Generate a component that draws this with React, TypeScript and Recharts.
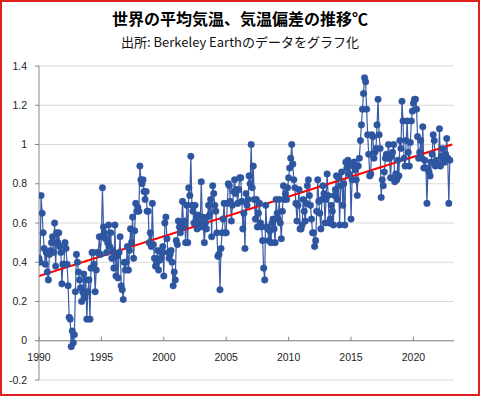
import React from 'react';
import { ComposedChart, Line, XAxis, YAxis, CartesianGrid, ReferenceLine } from 'recharts';

// ---- data ----
const title = '世界の平均気温、気温偏差の推移℃';
const subtitle = '出所: Berkeley Earthのデータをグラフ化';

const startYear = 1990;
// monthly anomaly (°C), one row per year, Jan..Dec, 1990..2022
const monthlyAnomaly: number[][] = [
  [0.42, 0.40, 0.74, 0.65, 0.55, 0.47, 0.39, 0.45, 0.35, 0.31, 0.44, 0.46], // 1990
  [0.50, 0.53, 0.45, 0.60, 0.38, 0.55, 0.50, 0.55, 0.48, 0.45, 0.29, 0.39], // 1991
  [0.39, 0.50, 0.47, 0.39, 0.28, 0.12, 0.11, -0.03, 0.05, -0.01, 0.03, 0.25], // 1992
  [0.44, 0.40, 0.35, 0.31, 0.27, 0.20, 0.25, 0.34, 0.22, 0.31, 0.11, 0.25], // 1993
  [0.31, 0.11, 0.37, 0.45, 0.45, 0.39, 0.25, 0.36, 0.45, 0.45, 0.53, 0.44], // 1994
  [0.53, 0.78, 0.58, 0.55, 0.52, 0.45, 0.50, 0.59, 0.48, 0.55, 0.42, 0.46], // 1995
  [0.37, 0.59, 0.33, 0.43, 0.32, 0.45, 0.53, 0.28, 0.26, 0.21, 0.40, 0.36], // 1996
  [0.40, 0.48, 0.36, 0.46, 0.57, 0.50, 0.63, 0.42, 0.56, 0.70, 0.66, 0.68], // 1997
  [0.66, 0.89, 0.82, 0.80, 0.82, 0.76, 0.72, 0.76, 0.66, 0.66, 0.50, 0.55], // 1998
  [0.48, 0.70, 0.49, 0.42, 0.38, 0.40, 0.46, 0.36, 0.41, 0.42, 0.45, 0.48], // 1999
  [0.33, 0.60, 0.63, 0.52, 0.45, 0.42, 0.44, 0.46, 0.40, 0.28, 0.35, 0.31], // 2000
  [0.51, 0.49, 0.61, 0.58, 0.55, 0.60, 0.71, 0.58, 0.61, 0.50, 0.69, 0.50], // 2001
  [0.78, 0.74, 0.94, 0.69, 0.66, 0.60, 0.69, 0.62, 0.57, 0.64, 0.60, 0.58], // 2002
  [0.81, 0.63, 0.58, 0.50, 0.60, 0.57, 0.63, 0.69, 0.64, 0.72, 0.53, 0.79], // 2003
  [0.75, 0.69, 0.66, 0.55, 0.43, 0.44, 0.26, 0.47, 0.55, 0.62, 0.70, 0.55], // 2004
  [0.55, 0.70, 0.80, 0.79, 0.71, 0.61, 0.69, 0.76, 0.82, 0.75, 0.77, 0.70], // 2005
  [0.77, 0.83, 0.83, 0.71, 0.57, 0.65, 0.47, 0.75, 0.69, 0.72, 0.84, 0.80], // 2006
  [1.00, 0.78, 0.89, 0.72, 0.62, 0.72, 0.58, 0.65, 0.70, 0.60, 0.58, 0.51], // 2007
  [0.37, 0.31, 0.69, 0.58, 0.57, 0.51, 0.56, 0.50, 0.60, 0.62, 0.57, 0.50], // 2008
  [0.72, 0.65, 0.62, 0.72, 0.60, 0.52, 0.66, 0.79, 0.72, 0.75, 0.72, 0.78], // 2009
  [0.83, 0.88, 0.93, 1.00, 0.90, 0.82, 0.78, 0.70, 0.61, 0.69, 0.77, 0.57], // 2010
  [0.57, 0.59, 0.72, 0.66, 0.61, 0.70, 0.79, 0.82, 0.74, 0.69, 0.62, 0.55], // 2011
  [0.55, 0.48, 0.51, 0.66, 0.82, 0.71, 0.65, 0.57, 0.72, 0.79, 0.75, 0.60], // 2012
  [0.72, 0.85, 0.74, 0.60, 0.62, 0.69, 0.66, 0.59, 0.74, 0.77, 0.84, 0.72], // 2013
  [0.83, 0.59, 0.79, 0.86, 0.69, 0.80, 0.59, 0.91, 0.88, 0.92, 0.85, 0.90], // 2014
  [0.62, 0.82, 0.89, 0.91, 0.87, 0.82, 0.74, 0.89, 0.93, 1.02, 1.10, 1.18], // 2015
  [1.26, 1.34, 1.32, 1.18, 1.05, 0.95, 0.84, 0.85, 1.05, 1.04, 0.93, 0.96], // 2016
  [0.98, 1.10, 1.23, 1.05, 0.98, 0.73, 0.82, 0.79, 0.86, 0.93, 0.95, 0.93], // 2017
  [1.00, 0.93, 0.83, 0.94, 0.96, 1.00, 0.81, 0.85, 0.82, 0.92, 0.84, 1.02], // 2018
  [0.98, 1.22, 1.12, 0.93, 0.89, 1.02, 1.12, 0.96, 0.89, 1.01, 1.12, 1.17], // 2019
  [1.21, 1.23, 1.23, 1.18, 1.04, 0.93, 0.96, 1.02, 0.93, 1.09, 0.88, 0.92], // 2020
  [0.88, 0.70, 0.88, 0.86, 0.84, 0.91, 0.95, 1.05, 1.02, 0.89, 0.92, 0.90], // 2021
  [0.90, 1.08, 0.89, 0.94, 0.98, 0.93, 0.91, 0.95, 1.03, 0.93, 0.70, 0.92], // 2022
];

const trendYears = [1990, 2023.1];
const trendValues = [0.33, 1.0];

const xTicks = [1990, 1995, 2000, 2005, 2010, 2015, 2020];
const yTicks = [-0.2, 0, 0.2, 0.4, 0.6, 0.8, 1, 1.2, 1.4];
const xDomain: [number, number] = [1990, 2023.25];
const yDomain: [number, number] = [-0.2, 1.4];

const series = monthlyAnomaly.flatMap((row, yi) =>
  row.map((v, m) => ({ t: startYear + yi + m / 12, v }))
);
const trend = trendYears.map((t, i) => ({ t, v: trendValues[i] }));

// ---- layout ----
const W = 480;
const H = 396;
const M = { top: 66, right: 26, bottom: 0, left: 0 };
const Y_AXIS_W = 39;
const X_AXIS_H = 16;
const plotTop = M.top;
const plotH = H - M.top - M.bottom - X_AXIS_H;
const zeroY = plotTop + (plotH * yDomain[1]) / (yDomain[1] - yDomain[0]);

const axisColor = '#868686';
const gridColor = '#d9d9d9';
const blue = '#2d55a0';
const tickFont = '"Liberation Sans", Arial, sans-serif';

function XTick(props: any) {
  const { x, payload } = props;
  return (
    <g>
      <line x1={x} x2={x} y1={zeroY - 4} y2={zeroY} stroke={axisColor} strokeWidth={1} />
      <text
        x={x}
        y={zeroY + 20}
        textAnchor="middle"
        fontSize={10.5}
        fontFamily={tickFont}
        fill="#222"
      >
        {payload.value}
      </text>
    </g>
  );
}

export default function App() {
  return (
    <div
      style={{
        position: 'absolute',
        left: 0,
        top: 0,
        width: W,
        height: H,
        background: '#fff',
        boxSizing: 'border-box',
        border: '2px solid #e0201c',
        overflow: 'hidden',
      }}
    >
      <div
        style={{
          position: 'absolute',
          left: -2,
          top: 5,
          width: W,
          textAlign: 'center',
          fontFamily: '"Noto Sans CJK JP", sans-serif',
          fontWeight: 700,
          fontSize: 16,
          lineHeight: '22px',
          color: '#000',
        }}
      >
        {title}
      </div>
      <div
        style={{
          position: 'absolute',
          left: -2,
          top: 31,
          width: W,
          textAlign: 'center',
          fontFamily: '"Noto Sans CJK JP", sans-serif',
          fontWeight: 400,
          fontSize: 13,
          lineHeight: '18px',
          color: '#111',
        }}
      >
        {subtitle}
      </div>
      <div style={{ position: 'absolute', left: -2, top: -2 }}>
        <ComposedChart width={W} height={H} margin={M}>
          <CartesianGrid horizontal vertical={false} stroke={gridColor} strokeWidth={1} />
          <XAxis
            type="number"
            dataKey="t"
            domain={xDomain}
            ticks={xTicks}
            allowDataOverflow
            axisLine={false}
            tickLine={false}
            height={X_AXIS_H}
            tick={<XTick />}
            interval={0}
          />
          <YAxis
            type="number"
            domain={yDomain}
            ticks={yTicks}
            width={Y_AXIS_W}
            allowDataOverflow
            axisLine={{ stroke: axisColor }}
            tickLine={{ stroke: axisColor }}
            tickSize={4}
            tickMargin={8}
            interval={0}
            tick={{ fontSize: 10.5, fontFamily: tickFont, fill: '#222' }}
          />
          <ReferenceLine y={0} stroke={axisColor} strokeWidth={1} ifOverflow="extendDomain" />
          <Line
            data={series}
            dataKey="v"
            type="linear"
            stroke="#3a5ca8"
            strokeWidth={1.2}
            dot={{ r: 3.3, fill: blue, stroke: blue, strokeWidth: 0.4 }}
            isAnimationActive={false}
          />
          <Line
            data={trend}
            dataKey="v"
            type="linear"
            stroke="#ff0000"
            strokeWidth={2}
            dot={false}
            isAnimationActive={false}
          />
        </ComposedChart>
      </div>
    </div>
  );
}
